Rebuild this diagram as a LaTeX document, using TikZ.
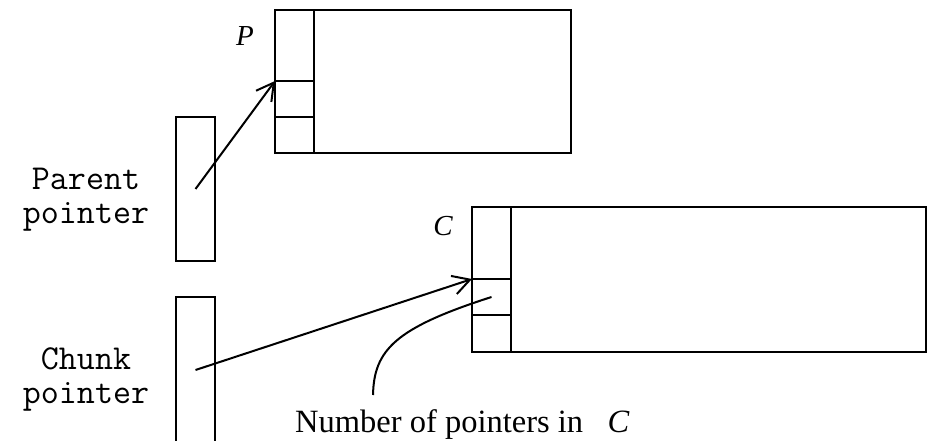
\documentclass[tikz,border=0pt]{standalone}
\usepackage{fontspec}
\setmainfont{Liberation Serif}
\usetikzlibrary{
    arrows.meta,
    positioning
}
\tikzstyle{blockbox} = [
    rectangle,
    draw,
    line width=2pt,
    inner sep=0pt,
    outer sep=0pt,
    anchor=north west
]
\tikzstyle{slot} = [
    rectangle,
    draw,
    line width=2pt,
    inner sep=0pt,
    outer sep=0pt,
    minimum width=39pt
]
\tikzstyle{ptrbox} = [
    rectangle,
    draw,
    line width=2pt,
    inner sep=0pt,
    outer sep=0pt,
    minimum width=39pt,
    anchor=north west
]
\tikzstyle{arrow} = [
    -{Straight Barb[length=17pt,width=19pt]},
    line width=2pt
]
\tikzstyle{ptrlabel} = [
    align=center,
    inner sep=0pt,
    font=\fontsize{35}{34}\selectfont\ttfamily
]
\tikzstyle{blocktag} = [
    inner sep=0pt,
    anchor=base,
    font=\fontsize{29}{32}\selectfont\itshape
]

\begin{document}
\begin{tikzpicture}[x=1pt, y=-1pt]
    \useasboundingbox (0,0) rectangle (931,441);
    % block P
    \node[blockbox, minimum width=296pt, minimum height=143pt] (Pblk) at (275,10) {};
    \node[slot, minimum height=71pt, anchor=north west] (Ptop) at (Pblk.north west) {};
    \node[slot, minimum height=36pt, below=0pt of Ptop] (Pmid) {};
    \node[slot, minimum height=36pt, below=0pt of Pmid] (Pbot) {};
    \node[blocktag] (Ptag) at (245,46) {P};
    % block C
    \node[blockbox, minimum width=454pt, minimum height=145pt] (Cblk) at (472,207) {};
    \node[slot, minimum height=72pt, anchor=north west] (Ctop) at (Cblk.north west) {};
    \node[slot, minimum height=36pt, below=0pt of Ctop] (Cmid) {};
    \node[slot, minimum height=37pt, below=0pt of Cmid] (Cbot) {};
    \node[blocktag] (Ctag) at (443,235) {C};
    % pointer fields
    \node[ptrbox, minimum height=144pt] (parent) at (176,117) {};
    \node[ptrbox, minimum height=146pt] (chunk) at (176,297) {};
    \node[ptrlabel] (parentlbl) at (86,200) {Parent\\pointer};
    \node[ptrlabel] (chunklbl) at (86,379) {Chunk\\pointer};
    % links
    \draw[arrow] (parent.center) -- (Pmid.north west);
    \draw[arrow] (chunk.center) -- (Cmid.north west);
    % count note
    \node[inner sep=0pt, anchor=base west, font=\fontsize{32.5}{34}\selectfont] (note) at (295,432)
        {Number of pointers in\hspace{0.75em}\textit{C}};
    \coordinate (tail) at (373,395);
    \draw[line width=2pt] (Cmid.center) .. controls (395,328) and (374,350) .. (tail);
\end{tikzpicture}
\end{document}
